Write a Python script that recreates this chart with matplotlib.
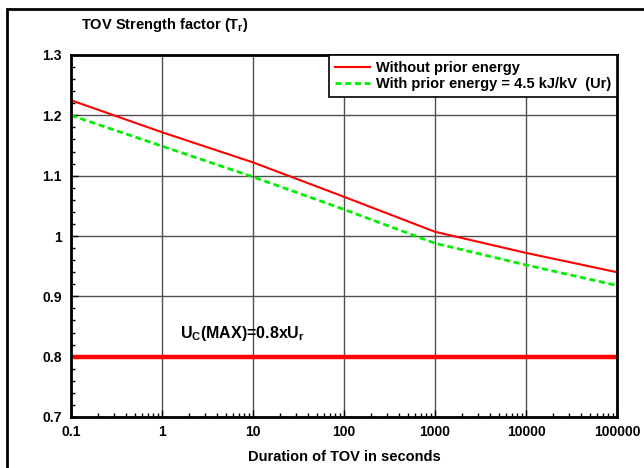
import matplotlib.pyplot as plt
import matplotlib.ticker as mticker
from matplotlib.patches import Rectangle
import numpy as np

plt.rcParams['font.family'] = ['Liberation Sans', 'DejaVu Sans']
plt.rcParams['font.weight'] = 'bold'

# data
t_sec = [0.1, 1, 10, 100, 1000, 10000, 100000]
tr_no_energy = [1.225, 1.172, 1.122, 1.065, 1.007, 0.972, 0.940]
tr_energy = [1.200, 1.149, 1.098, 1.044, 0.988, 0.952, 0.918]
uc_max = 0.8

xticks = [0.1, 1, 10, 100, 1000, 10000, 100000]
xticklabels = ['0.1', '1', '10', '100', '1000', '10000', '100000']
yticks = [0.7, 0.8, 0.9, 1.0, 1.1, 1.2, 1.3]
yticklabels = ['0.7', '0.8', '0.9', '1', '1.1', '1.2', '1.3']

fig = plt.figure(figsize=(6.44, 4.68), dpi=100)
fig.patches.append(Rectangle((6.5 / 644, -0.1), 1.2, (468 - 8.5) / 468 + 0.1,
                             transform=fig.transFigure, fill=False,
                             edgecolor='black', linewidth=2))
ax = fig.add_axes([71 / 644, 1 - 417 / 468, (617 - 71) / 644, (417 - 55) / 468])

ax.plot(t_sec, tr_no_energy, color='red', lw=1.5, label='Without prior energy')
ax.plot(t_sec, tr_energy, color='#00ee00', lw=2, ls=(0, (2.2, 1.3)),
        label='With prior energy = 4.5 kJ/kV  (Ur)')
ax.axhline(uc_max, color='red', lw=3.2)

ax.set_xscale('log')
ax.set_xlim(0.1, 100000)
ax.set_ylim(0.7, 1.3)
ax.set_xticks(xticks)
ax.set_xticklabels(xticklabels)
ax.xaxis.set_minor_locator(mticker.LogLocator(base=10, subs=np.arange(2, 10)))
ax.xaxis.set_minor_formatter(mticker.NullFormatter())
ax.set_yticks(yticks)
ax.set_yticklabels(yticklabels)
ax.yaxis.set_minor_locator(mticker.MultipleLocator(0.02))

ax.tick_params(which='both', direction='in', labelsize=10, width=1)
ax.tick_params(which='major', length=5)
ax.tick_params(which='minor', length=3)
ax.tick_params(axis='y', pad=6.5)
ax.tick_params(axis='x', pad=6)
ax.grid(True, which='major', color='#505050', lw=1)
for s in ax.spines.values():
    s.set_linewidth(2)

ax.text(1.58, 0.839, r'U$_\mathregular{C}$(MAX)=0.8xU$_\mathregular{r}$', fontsize=11.5,
        fontweight='bold', va='center')

fig.text(81 / 644, 1 - 25 / 468, r'TOV Strength factor (T$_\mathregular{r}$)',
         fontsize=10.5, fontweight='bold', va='center')
ax.set_xlabel('Duration of TOV in seconds', fontsize=10.5, fontweight='bold', labelpad=8)

leg = ax.legend(loc='upper right', fontsize=10.5, frameon=True,
                fancybox=False, edgecolor='black', framealpha=1,
                borderpad=0.4, labelspacing=0.15, handlelength=2.4, handletextpad=0.4,
                borderaxespad=0)
leg.get_frame().set_linewidth(1.2)

fig.savefig('out.png', dpi=100)
